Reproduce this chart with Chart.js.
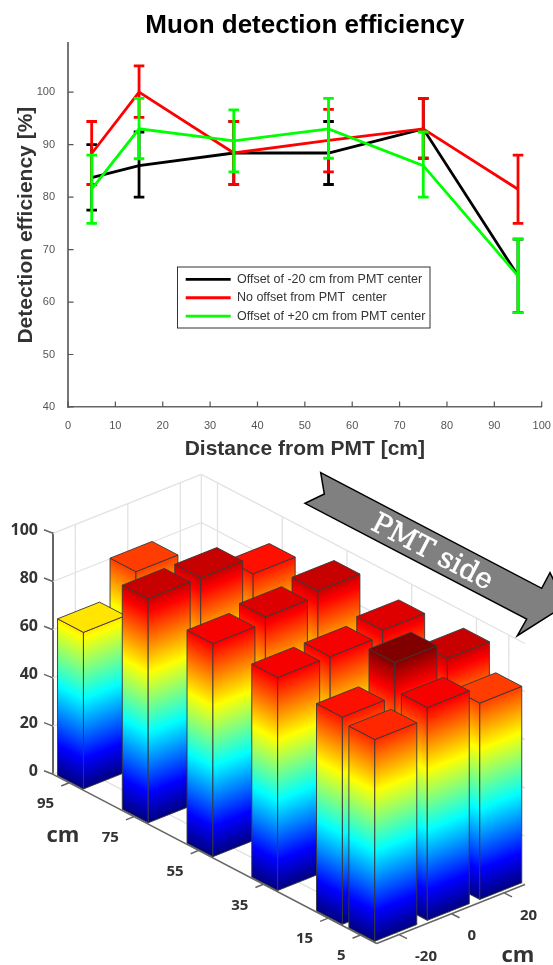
<!DOCTYPE html>
<html>
<head>
<meta charset="utf-8">
<title>Muon detection efficiency</title>
<script src="https://cdn.jsdelivr.net/npm/chart.js@4/dist/chart.umd.min.js"></script>
<style>
html,body{margin:0;padding:0;background:#fff;width:553px;height:965px;overflow:hidden}
canvas{position:absolute;left:0;filter:blur(0.35px)}
#top{top:0}
#bottom{top:470px}
</style>
</head>
<body>
<canvas id="top" width="553" height="470"></canvas>
<canvas id="bottom" width="553" height="495"></canvas>
<script>
const distances = [5, 15, 35, 55, 75, 95];
const offsets = [-20, 0, 20];
const seriesLabels = ['Offset of -20 cm from PMT center', 'No offset from PMT  center', 'Offset of +20 cm from PMT center'];
const seriesColors = ['#000000', '#ff0000', '#00ff00'];

const effMinus20 = [83.7, 86, 88.4, 88.4, 93, 65];
const effZero = [88.3, 100, 88.4, 90.8, 93, 81.5];
const effPlus20 = [81.5, 93, 90.7, 93, 86, 65];

const lowMinus20 = [77.5, 80, 82.4, 82.4, 87.4, 58];
const highMinus20 = [90, 92.4, 94.4, 94.4, 98.8, 72];
const lowZero = [82.4, 95.2, 82.4, 84.8, 87.4, 75];
const highZero = [94.4, 105, 94.4, 96.7, 98.8, 88];
const lowPlus20 = [75, 87.3, 84.8, 87.4, 80, 58];
const highPlus20 = [88, 98.8, 96.6, 98.8, 92.4, 72];

const xTicks = [0, 10, 20, 30, 40, 50, 60, 70, 80, 90, 100];
const yTicks = [40, 50, 60, 70, 80, 90, 100];
const zTicks = [0, 20, 40, 60, 80, 100];

const effs = [effMinus20, effZero, effPlus20];
const lows = [lowMinus20, lowZero, lowPlus20];
const highs = [highMinus20, highZero, highPlus20];

/* ---------- top chart ---------- */
const errorBars = {
  id: 'errorBars',
  afterDatasetDraw(chart, args) {
    const i = args.index, { ctx, scales: { x, y } } = chart;
    ctx.save();
    ctx.strokeStyle = seriesColors[i];
    ctx.lineWidth = 2.8;
    distances.forEach((d, k) => {
      const px = x.getPixelForValue(d), lo = y.getPixelForValue(lows[i][k]), hi = y.getPixelForValue(highs[i][k]);
      ctx.beginPath();
      ctx.moveTo(px, lo); ctx.lineTo(px, hi);
      ctx.moveTo(px - 5.3, lo); ctx.lineTo(px + 5.3, lo);
      ctx.moveTo(px - 5.3, hi); ctx.lineTo(px + 5.3, hi);
      ctx.stroke();
    });
    ctx.restore();
  }
};
const innerTicks = {
  id: 'innerTicks',
  afterLayout(chart) {
    const l = chart.legend;
    l.left = 179.8; l.top = 267.2; l.right = 430; l.bottom = 350;
  },
  beforeDatasetsDraw(chart) {
    const { ctx, scales: { x, y }, chartArea: a } = chart;
    ctx.save();
    ctx.strokeStyle = '#555';
    ctx.lineWidth = 1.2;
    ctx.beginPath();
    xTicks.forEach(v => { const p = x.getPixelForValue(v); ctx.moveTo(p, a.bottom); ctx.lineTo(p, a.bottom - 5.5); });
    yTicks.forEach(v => { const p = y.getPixelForValue(v); ctx.moveTo(a.left, p); ctx.lineTo(a.left + 5.5, p); });
    ctx.stroke();
    ctx.strokeStyle = '#333';
    ctx.lineWidth = 1;
    ctx.strokeRect(177.5, 267, 252.5, 61);
    ctx.restore();
  }
};
new Chart(document.getElementById('top'), {
  type: 'line',
  data: {
    datasets: effs.map((vals, i) => ({
      label: seriesLabels[i],
      data: distances.map((d, k) => ({ x: d, y: vals[k] })),
      borderColor: seriesColors[i],
      backgroundColor: seriesColors[i],
      borderWidth: 2.8,
      pointRadius: 0,
      tension: 0,
      fill: false,
      order: 3 - i
    }))
  },
  options: {
    responsive: false,
    animation: false,
    devicePixelRatio: 1,
    layout: { padding: { left: 0, right: 11.3, top: 0, bottom: 0 } },
    plugins: {
      title: {
        display: true,
        fullSize: false,
        text: 'Muon detection efficiency',
        color: '#000',
        font: { family: '"Liberation Sans"', size: 26, weight: 'bold' },
        padding: { top: 10, bottom: 2.1 }
      },
      legend: {
        display: true,
        position: 'chartArea',
        align: 'start',
        labels: {
          usePointStyle: true,
          pointStyle: 'line',
          pointStyleWidth: 45,
          padding: 5.9,
          color: '#333',
          sort: (a, b) => a.datasetIndex - b.datasetIndex,
          font: { family: '"Liberation Sans"', size: 12.5 }
        }
      },
      tooltip: { enabled: false }
    },
    scales: {
      x: {
        type: 'linear',
        min: 0,
        max: 100,
        afterFit(a) { a.height = 63; a.paddingLeft = 0; a.paddingRight = 0; },
        afterBuildTicks(a) { a.ticks = xTicks.map(v => ({ value: v })); },
        grid: { display: false },
        border: { color: '#666', width: 1.5 },
        ticks: { color: '#555', padding: 4, maxRotation: 0, font: { family: '"Liberation Sans"', size: 11 } },
        title: {
          display: true, text: 'Distance from PMT [cm]', color: '#333',
          font: { family: '"Liberation Sans"', size: 21, weight: 'bold' },
          padding: { top: 0, bottom: 8 }
        }
      },
      y: {
        type: 'linear',
        min: 40,
        max: 109.3,
        afterFit(a) { a.width = 68; },
        afterBuildTicks(a) { a.ticks = yTicks.map(v => ({ value: v })); },
        grid: { display: false },
        border: { color: '#777', width: 2 },
        ticks: { color: '#555', padding: 5, font: { family: '"Liberation Sans"', size: 11 } },
        title: {
          display: true, text: 'Detection efficiency [%]', color: '#333',
          font: { family: '"Liberation Sans"', size: 21, weight: 'bold' },
          padding: { top: 14, bottom: 0 }
        }
      }
    }
  },
  plugins: [errorBars, innerTicks]
});

/* ---------- bottom chart: oblique 3D bars ---------- */
const BAR_HALF_DIST = 4, BAR_HALF_OFF = 8;
const DIST_SLOPE = 0.5226, OFF_DX = 148.3, OFF_DY = 59;

function jet(t) {
  const c = v => Math.round(255 * Math.max(0, Math.min(1, v)));
  return `rgb(${c(Math.min(4 * t - 1.5, -4 * t + 4.5))},${c(Math.min(4 * t - 0.5, -4 * t + 3.5))},${c(Math.min(4 * t + 0.5, -4 * t + 2.5))})`;
}
function project(chart, d, o, z) {
  const { x, off, y } = chart.scales;
  const f = (off.getPixelForValue(o) - off.left) / off.width;
  const px = x.getPixelForValue(d);
  return {
    x: px + f * OFF_DX,
    y: y.getPixelForValue(z) + (px - x.left) * DIST_SLOPE - f * OFF_DY
  };
}
function faceGradient(ctx, chart, p, q) {
  const { y } = chart.scales;
  const H = y.getPixelForValue(0) - y.getPixelForValue(100);
  const ux = q.x - p.x, uy = q.y - p.y, len = Math.hypot(ux, uy);
  let nx = -uy / len, ny = ux / len;
  if (ny > 0) { nx = -nx; ny = -ny; }
  const k = -H * ny;
  const g = ctx.createLinearGradient(p.x, p.y, p.x + nx * k, p.y + ny * k);
  for (let i = 0; i <= 8; i++) g.addColorStop(i / 8, jet(i / 8));
  return g;
}
function poly(ctx, pts) {
  ctx.beginPath();
  pts.forEach((p, i) => i ? ctx.lineTo(p.x, p.y) : ctx.moveTo(p.x, p.y));
  ctx.closePath();
}
const box3d = {
  id: 'box3d',
  beforeDatasetsDraw(chart) {
    const { ctx, scales: { x, off } } = chart;
    const dMax = x.max, dMin = x.min, oMin = off.min, oMax = off.max;
    const P = (d, o, z) => project(chart, d, o, z);
    const seg = (a, b) => { ctx.moveTo(a.x, a.y); ctx.lineTo(b.x, b.y); };
    ctx.save();
    ctx.strokeStyle = '#e2e2e2';
    ctx.lineWidth = 1.3;
    ctx.beginPath();
    zTicks.forEach(z => { seg(P(dMax, oMin, z), P(dMax, oMax, z)); seg(P(dMax, oMax, z), P(dMin, oMax, z)); });
    offsets.forEach(o => { seg(P(dMax, o, 0), P(dMax, o, 100)); seg(P(dMax, o, 0), P(dMin, o, 0)); });
    distances.forEach(d => { seg(P(d, oMax, 0), P(d, oMax, 100)); seg(P(d, oMin, 0), P(d, oMax, 0)); });
    seg(P(dMax, oMax, 0), P(dMax, oMax, 100));
    ctx.stroke();

    ctx.strokeStyle = '#666';
    ctx.lineWidth = 1.5;
    ctx.beginPath();
    seg(P(dMax, oMin, 0), P(dMin, oMin, 0));
    seg(P(dMin, oMin, 0), P(dMin, oMax, 0));
    distances.forEach(d => { const a = P(d, oMin, 0); seg(a, { x: a.x - 8, y: a.y + 3.3 }); });
    offsets.forEach(o => { const a = P(dMin, o, 0); seg(a, { x: a.x + 8, y: a.y + 4 }); });
    zTicks.forEach(z => { const a = P(dMax, oMin, z); seg(a, { x: a.x - 9, y: a.y - 3.5 }); });
    ctx.stroke();
    ctx.restore();
  },
  afterDatasetsDraw(chart) {
    const { ctx, scales: { x, off } } = chart;
    const P = (d, o, z) => project(chart, d, o, z);
    const bars = [];
    chart.data.datasets.forEach(ds => ds.data.forEach(pt => bars.push({ d: pt.x, o: ds.offsetValue, z: pt.y })));
    bars.sort((a, b) => (b.d - a.d) || (b.o - a.o));
    ctx.save();
    ctx.lineWidth = 1;
    ctx.lineJoin = 'round';
    ctx.strokeStyle = 'rgba(55,55,55,0.9)';
    bars.forEach(b => {
      const d0 = b.d - BAR_HALF_DIST, d1 = b.d + BAR_HALF_DIST, o0 = b.o - BAR_HALF_OFF, o1 = b.o + BAR_HALF_OFF;
      const F0 = P(d0, o0, 0), F1 = P(d0, o0, b.z);
      const L0 = P(d1, o0, 0), L1 = P(d1, o0, b.z);
      const R0 = P(d0, o1, 0), R1 = P(d0, o1, b.z);
      const B1 = P(d1, o1, b.z);
      ctx.fillStyle = faceGradient(ctx, chart, F0, L0);
      poly(ctx, [F0, L0, L1, F1]); ctx.fill(); ctx.stroke();
      ctx.fillStyle = faceGradient(ctx, chart, F0, R0);
      poly(ctx, [F0, R0, R1, F1]); ctx.fill(); ctx.stroke();
      ctx.fillStyle = jet(b.z / 100);
      poly(ctx, [F1, L1, B1, R1]); ctx.fill(); ctx.stroke();
    });

    /* axis tick labels */
    ctx.fillStyle = '#333';
    ctx.textBaseline = 'middle';
    ctx.font = 'bold 15px "Open Sans"';
    ctx.textAlign = 'right';
    distances.forEach(d => { const a = P(d, off.min, 0); ctx.fillText(String(d), a.x - 15, a.y + 21); });
    ctx.textAlign = 'left';
    offsets.forEach(o => { const a = P(x.min, o, 0); ctx.fillText(String(o), a.x + 16, a.y + 22.5); });
    ctx.font = 'bold 22px "Open Sans"';
    ctx.textAlign = 'center';
    ctx.fillText('cm', 63, 836 - 470);
    ctx.fillText('cm', 518, 956 - 470);

    /* PMT side arrow */
    const T = 470;
    const arrow = [[320.7, 472.7], [541.7, 588.3], [550, 572.7], [566, 605], [517.3, 635.7], [526.7, 619], [305, 503.3], [324.3, 494]];
    ctx.beginPath();
    arrow.forEach((p, i) => i ? ctx.lineTo(p[0], p[1] - T) : ctx.moveTo(p[0], p[1] - T));
    ctx.closePath();
    ctx.fillStyle = '#808080';
    ctx.fill();
    ctx.strokeStyle = '#000';
    ctx.lineWidth = 1.5;
    ctx.lineJoin = 'miter';
    ctx.stroke();
    ctx.translate(431.7, 553 - T);
    ctx.rotate(27.6 * Math.PI / 180);
    ctx.fillStyle = '#fff';
    ctx.strokeStyle = '#fff';
    ctx.lineWidth = 0.6;
    ctx.textAlign = 'center';
    ctx.font = '28px "DejaVu Serif"';
    ctx.fillText('PMT side', 0, 0);
    ctx.strokeText('PMT side', 0, 0);
    ctx.restore();
  }
};
new Chart(document.getElementById('bottom'), {
  type: 'scatter',
  data: {
    datasets: offsets.map((o, i) => ({
      label: String(o),
      offsetValue: o,
      data: distances.map((d, k) => ({ x: d, y: effs[i][k] })),
      pointRadius: 0,
      showLine: false
    }))
  },
  options: {
    responsive: false,
    animation: false,
    devicePixelRatio: 1,
    layout: { padding: { left: 0, right: 176.3, top: 63.3, bottom: 190.7 } },
    plugins: { legend: { display: false }, title: { display: false }, tooltip: { enabled: false } },
    scales: {
      x: { type: 'linear', min: 0, max: 100, reverse: true, display: false },
      off: { type: 'linear', axis: 'x', position: 'bottom', min: -28.5, max: 28, display: false },
      y: {
        type: 'linear',
        min: 0,
        max: 100,
        afterFit(a) { a.width = 53; },
        grid: { display: false },
        border: { color: '#666', width: 2 },
        ticks: { stepSize: 20, color: '#333', padding: 7, labelOffset: -3, font: { family: '"Open Sans"', size: 16, weight: 'bold' } }
      }
    }
  },
  plugins: [box3d]
});
</script>
</body>
</html>
